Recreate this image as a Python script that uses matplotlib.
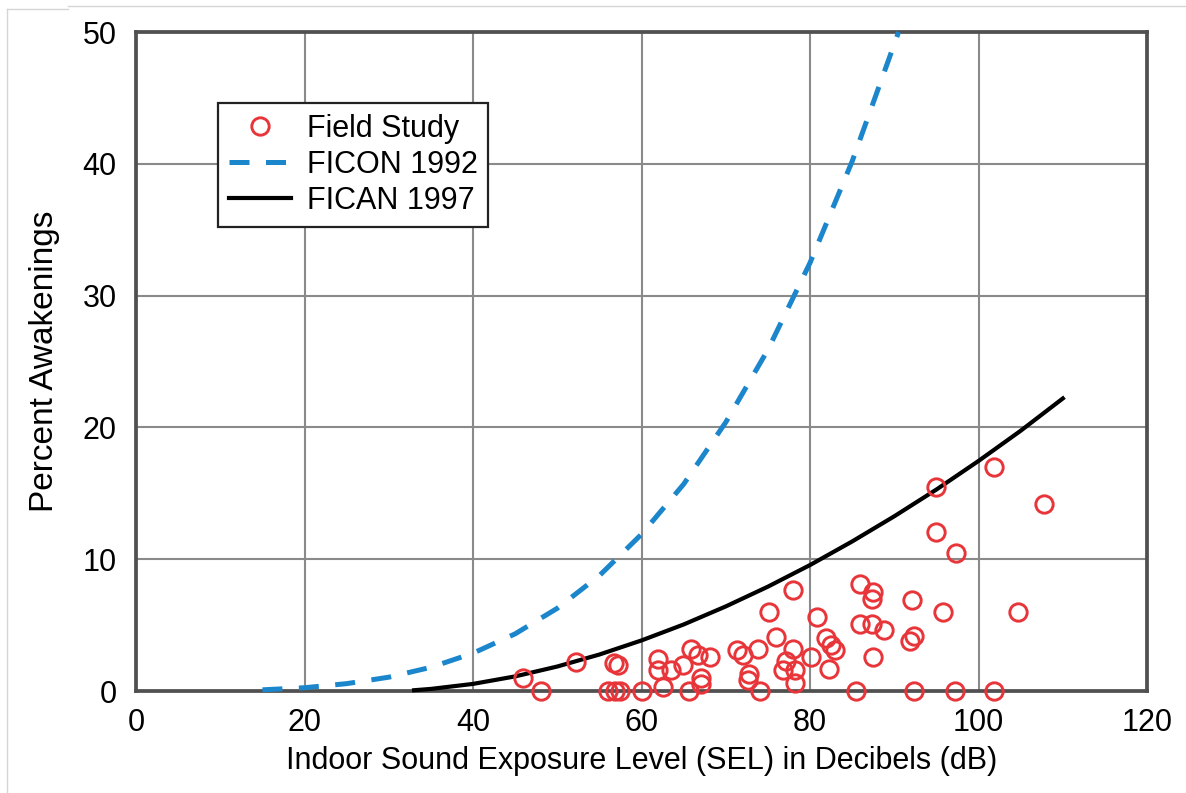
import matplotlib
matplotlib.use("Agg")
import matplotlib.pyplot as plt
from matplotlib.lines import Line2D

plt.rcParams["font.family"] = ["Liberation Sans", "DejaVu Sans"]

# Field study points: indoor SEL (dB) vs percent awakenings
field_sel = [45.9, 48.1, 52.2, 56.7, 57.2, 56.0, 56.8, 57.4, 60.0,
             62.0, 62.0, 63.5, 62.5, 64.9, 65.9, 66.7, 68.1, 67.1, 67.0, 65.6,
             71.3, 72.0, 73.8, 72.8, 72.6, 74.0, 75.9, 75.1,
             78.0, 78.0, 77.1, 76.8, 78.2, 78.2, 80.1, 80.8, 81.9, 82.5, 82.9, 82.3,
             85.5, 85.9, 87.5, 87.4, 85.9, 87.4, 88.8, 87.5,
             92.1, 92.3, 91.9, 92.3, 95.8, 97.2, 101.8,
             95.0, 101.8, 107.8, 95.0, 97.3, 104.7]
field_pct = [1.0, 0.0, 2.2, 2.1, 2.0, 0.0, 0.0, 0.0, 0.0,
             2.4, 1.6, 1.6, 0.3, 2.0, 3.2, 2.7, 2.6, 1.0, 0.5, 0.0,
             3.1, 2.7, 3.2, 1.3, 0.8, 0.0, 4.1, 6.0,
             7.7, 3.2, 2.3, 1.6, 1.6, 0.6, 2.6, 5.6, 4.0, 3.5, 3.1, 1.7,
             0.0, 8.1, 7.5, 7.0, 5.1, 5.1, 4.6, 2.6,
             6.9, 4.2, 3.8, 0.0, 6.0, 0.0, 0.0,
             15.5, 17.0, 14.2, 12.1, 10.5, 6.0]

# FICON 1992 curve
ficon_sel = [15, 20, 25, 30, 35, 40, 45, 50, 55, 60, 65, 70, 75, 80, 85, 90, 90.5]
ficon_pct = [0.09, 0.25, 0.56, 1.05, 1.8, 2.87, 4.34, 6.28, 8.76, 11.9,
             15.7, 20.4, 25.9, 32.5, 40.2, 49.1, 50.0]

# FICAN 1997 curve
fican_sel = [33, 35, 40, 45, 50, 55, 60, 65, 70, 75, 80, 85, 90, 95, 100, 105, 110]
fican_pct = [0.06, 0.16, 0.54, 1.11, 1.86, 2.77, 3.84, 5.05, 6.42, 7.92,
             9.56, 11.35, 13.26, 15.29, 17.46, 19.75, 22.2]

fig = plt.figure(figsize=(11.86, 7.93), dpi=100)
ax = fig.add_axes([0.1147, 0.1286, 0.8525, 0.831])

ax.plot(field_sel, field_pct, linestyle="none", marker="o", markersize=12.5,
        markerfacecolor="none", markeredgecolor="#e8353a", markeredgewidth=2.1,
        clip_on=False, zorder=5, label="Field Study")
ax.plot(ficon_sel, ficon_pct, color="#1b86cc", linewidth=3.6, dashes=(4, 3.3),
        dash_capstyle="butt", clip_on=False, zorder=4, label="FICON 1992")
ax.plot(fican_sel, fican_pct, color="black", linewidth=3, clip_on=False,
        zorder=4, label="FICAN 1997")

ax.set_xlim(0, 120)
ax.set_ylim(0, 50)
ax.set_xticks(range(0, 121, 20))
ax.set_yticks(range(0, 51, 10))
ax.grid(True, color="#8a8a8a", linewidth=1.5)
ax.set_axisbelow(True)
ax.tick_params(length=0, labelsize=22, colors="black")
ax.tick_params(axis="x", pad=12)
ax.tick_params(axis="y", pad=14)
for sp in ax.spines.values():
    sp.set_color("#505050")
    sp.set_linewidth(2.7)
    sp.set_zorder(3)

ax.set_xlabel("Indoor Sound Exposure Level (SEL) in Decibels (dB)", fontsize=22, labelpad=6)
ax.set_ylabel("Percent Awakenings", fontsize=24, labelpad=16)

leg = ax.legend(loc="upper left", bbox_to_anchor=(218 / 1186, 1 - 103 / 793),
                bbox_transform=fig.transFigure, borderaxespad=0, fontsize=22,
                fancybox=False, framealpha=1, edgecolor="#222222",
                handlelength=2.05, handletextpad=0.5, labelspacing=0.2,
                borderpad=0.35)
leg.get_frame().set_linewidth(1.6)
leg.set_zorder(10)

# faint screenshot border
for xs, ys in [([7 / 1186, 7 / 1186], [0, 1 - 9 / 793]),
               ([7 / 1186, 68 / 1186], [1 - 9 / 793, 1 - 9 / 793]),
               ([68 / 1186, 1], [1 - 6 / 793, 1 - 6 / 793])]:
    fig.add_artist(Line2D(xs, ys, transform=fig.transFigure, color="#d6d6d6", linewidth=1))

fig.savefig("out.png", dpi=100)
